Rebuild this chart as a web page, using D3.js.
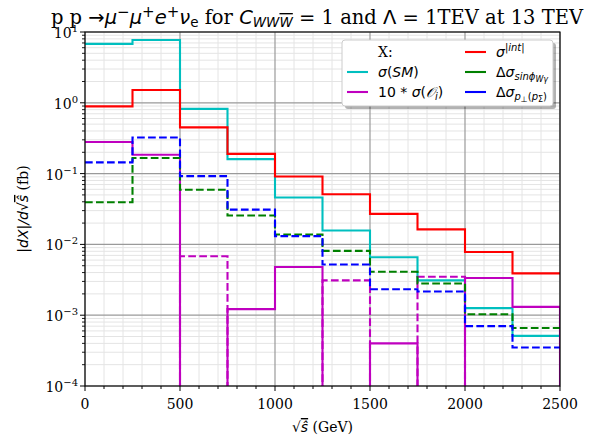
<!DOCTYPE html>
<html>
<head>
<meta charset="utf-8">
<script src="https://cdn.jsdelivr.net/npm/d3@7"></script>
<style>
  body { margin: 0; background: #fff; }
  svg { display: block; }
  .serif { font-family: "DejaVu Serif", serif; }
  .math { font-family: "DejaVu Sans", sans-serif; font-style: italic; }
</style>
</head>
<body>
<svg id="chart" width="594" height="439"></svg>
<script>
// bin edges (GeV) and per-bin values (fb)
const edges = [0, 250, 500, 750, 1000, 1250, 1500, 1750, 2000, 2250, 2500];
const sigmaSM = [6.8, 7.7, 0.82, 0.16, 0.046, 0.0157, 0.0066, 0.0031, 0.00126, 0.00051];
const sigmaInt = [0.89, 1.52, 0.45, 0.19, 0.091, 0.051, 0.027, 0.0163, 0.0078, 0.0039];
const sigmaOiPos = [0.28, 0.185, 0, 0.00122, 0.0048, 0, 0.0004, 0, 0.00335, 0.00131];
const sigmaOiNeg = [0, 0, 0.0068, 0, 0, 0.0031, 0, 0.0035, 0, 0];
const dSigmaSinPhi = [0.0394, 0.166, 0.059, 0.0256, 0.0138, 0.0081, 0.0041, 0.0028, 0.00103, 0.00066];
const dSigmaPperp = [0.144, 0.324, 0.092, 0.031, 0.0131, 0.0052, 0.00232, 0.00216, 0.0007, 0.00035];
const xTicks = [0, 500, 1000, 1500, 2000, 2500];
const yExponents = [1, 0, -1, -2, -3, -4];

const margin = { left: 85, right: 34, top: 32, bottom: 53 };
const width = 594, height = 439;

const svg = d3.select("#chart");

const x = d3.scaleLinear().domain([0, 2500]).range([margin.left, width - margin.right]);
const y = d3.scaleLog().domain([1e-4, 10]).range([height - margin.bottom, margin.top]);
const yBottom = y(1e-4), yTop = y(10);

svg.append("clipPath").attr("id", "plotclip")
  .append("rect")
  .attr("x", x(0)).attr("y", yTop)
  .attr("width", x(2500) - x(0)).attr("height", yBottom - yTop);

// grid
const grid = svg.append("g");
const minorX = d3.range(0, 2501, 100).filter(v => v % 500 !== 0);
const minorY = [];
yExponents.slice(1).forEach(e => { for (let k = 2; k <= 9; k++) minorY.push(k * Math.pow(10, e)); });

grid.selectAll(".mgx").data(minorX).join("line")
  .attr("x1", d => x(d)).attr("x2", d => x(d))
  .attr("y1", yTop).attr("y2", yBottom)
  .attr("stroke", "#e4e4e4").attr("stroke-width", 1);
grid.selectAll(".mgy").data(minorY).join("line")
  .attr("x1", x(0)).attr("x2", x(2500))
  .attr("y1", d => y(d)).attr("y2", d => y(d))
  .attr("stroke", "#e4e4e4").attr("stroke-width", 1);
grid.selectAll(".Mgx").data(xTicks).join("line")
  .attr("x1", d => x(d)).attr("x2", d => x(d))
  .attr("y1", yTop).attr("y2", yBottom)
  .attr("stroke", "#9a9a9a").attr("stroke-width", 1.2);
grid.selectAll(".Mgy").data(yExponents).join("line")
  .attr("x1", x(0)).attr("x2", x(2500))
  .attr("y1", d => y(Math.pow(10, d))).attr("y2", d => y(Math.pow(10, d)))
  .attr("stroke", "#9a9a9a").attr("stroke-width", 1.2);

// step lines
const series = [
  { values: sigmaSM, color: "#00bfbf", dashed: false },
  { values: sigmaOiPos, color: "#bf00bf", dashed: false, dropAtEnd: true },
  { values: sigmaOiNeg, color: "#bf00bf", dashed: true },
  { values: sigmaInt, color: "#ff0000", dashed: false },
  { values: dSigmaSinPhi, color: "#008000", dashed: true },
  { values: dSigmaPperp, color: "#0000ff", dashed: true }
];

const line = d3.line()
  .x(d => x(d.x))
  .y(d => d.v > 0 ? y(d.v) : yBottom + 20)
  .curve(d3.curveStepAfter);

const plot = svg.append("g").attr("clip-path", "url(#plotclip)");
series.forEach(s => {
  const pts = edges.map((e, i) => ({
    x: e,
    v: i < s.values.length ? s.values[i] : (s.dropAtEnd ? 0 : s.values[s.values.length - 1])
  }));
  plot.append("path")
    .attr("d", line(pts))
    .attr("fill", "none")
    .attr("stroke", s.color)
    .attr("stroke-width", 2.1)
    .attr("stroke-dasharray", s.dashed ? "7.7,3.3" : null);
});

// spines
svg.append("rect")
  .attr("x", x(0)).attr("y", yTop)
  .attr("width", x(2500) - x(0)).attr("height", yBottom - yTop)
  .attr("fill", "none").attr("stroke", "#000").attr("stroke-width", 1.1);

// x ticks
const xMinorAll = d3.range(0, 2501, 100);
svg.selectAll(".xt").data(xMinorAll).join("line")
  .attr("x1", d => x(d)).attr("x2", d => x(d))
  .attr("y1", yBottom).attr("y2", d => yBottom + (d % 500 === 0 ? 5 : 3))
  .attr("stroke", "#000").attr("stroke-width", 1);
svg.selectAll(".xl").data(xTicks).join("text")
  .attr("class", "serif")
  .attr("x", d => x(d)).attr("y", yBottom + 23)
  .attr("text-anchor", "middle").attr("font-size", 14)
  .text(d => d);

// y ticks
svg.selectAll(".ymt").data(minorY).join("line")
  .attr("x1", x(0) - 3).attr("x2", x(0))
  .attr("y1", d => y(d)).attr("y2", d => y(d))
  .attr("stroke", "#000").attr("stroke-width", 0.9);
svg.selectAll(".yMt").data(yExponents).join("line")
  .attr("x1", x(0) - 5).attr("x2", x(0))
  .attr("y1", d => y(Math.pow(10, d))).attr("y2", d => y(Math.pow(10, d)))
  .attr("stroke", "#000").attr("stroke-width", 1);
const yl = svg.selectAll(".yl").data(yExponents).join("text")
  .attr("class", "serif")
  .attr("x", x(0) - 7).attr("y", d => y(Math.pow(10, d)) + 6)
  .attr("text-anchor", "end").attr("font-size", 14);
yl.append("tspan").text("10");
yl.append("tspan").attr("dy", -6).attr("font-size", 10)
  .text(d => d < 0 ? "\u2212" + (-d) : d);

// axis labels
const xlab = svg.append("text").attr("class", "serif")
  .attr("x", (x(0) + x(2500)) / 2).attr("y", 432)
  .attr("text-anchor", "middle").attr("font-size", 14);
xlab.append("tspan").attr("font-family", "DejaVu Sans").text("\u221A");
xlab.append("tspan").attr("class", "math").attr("text-decoration", "overline").text("\u015D");
xlab.append("tspan").text(" (GeV)");

const ylab = svg.append("text").attr("class", "serif")
  .attr("transform", `translate(28,${(yTop + yBottom) / 2}) rotate(-90)`)
  .attr("text-anchor", "middle").attr("font-size", 14);
ylab.append("tspan").attr("class", "math").text("|dX|/d");
ylab.append("tspan").attr("font-family", "DejaVu Sans").text("\u221A");
ylab.append("tspan").attr("class", "math").attr("text-decoration", "overline").text("\u015D");
ylab.append("tspan").text(" (fb)");

// title
const title = svg.append("text").attr("class", "serif")
  .attr("x", 317).attr("y", 24)
  .attr("text-anchor", "middle").attr("font-size", 19.5);
title.append("tspan").text("p p ");
title.append("tspan").attr("font-family", "DejaVu Sans").text(" \u2192");
title.append("tspan").attr("class", "math").text("\u03BC");
title.append("tspan").attr("font-family", "DejaVu Sans").attr("font-size", 15).attr("dy", -7).text("\u2212");
title.append("tspan").attr("class", "math").attr("dy", 7).text("\u03BC");
title.append("tspan").attr("font-family", "DejaVu Sans").attr("font-size", 15).attr("dy", -7).text("+");
title.append("tspan").attr("class", "math").attr("dy", 7).text("e");
title.append("tspan").attr("font-family", "DejaVu Sans").attr("font-size", 15).attr("dy", -7).text("+");
title.append("tspan").attr("class", "math").attr("dy", 7).text("\u03BD");
title.append("tspan").attr("font-family", "DejaVu Sans").attr("font-size", 13.5).attr("dy", 3).text("e");
title.append("tspan").attr("dy", -3).text(" for ");
title.append("tspan").attr("class", "math").text("C");
title.append("tspan").attr("class", "math").attr("font-size", 13.5).attr("dy", 3).text("WW");
title.append("tspan").attr("class", "math").attr("font-size", 13.5).attr("text-decoration", "overline").text("W");
title.append("tspan").attr("font-family", "DejaVu Sans").attr("dy", -3).text(" = ");
title.append("tspan").text("1 and ");
title.append("tspan").attr("font-family", "DejaVu Sans").text("\u039B = ");
title.append("tspan").text("1TEV at 13 TEV");

// legend
const lg = svg.append("g");
lg.append("rect")
  .attr("x", 345).attr("y", 43).attr("width", 211).attr("height", 66).attr("rx", 3)
  .attr("fill", "#000").attr("opacity", 0.3);
lg.append("rect")
  .attr("x", 342).attr("y", 40).attr("width", 211).attr("height", 66).attr("rx", 3)
  .attr("fill", "#fff").attr("stroke", "#cccccc").attr("stroke-width", 1);

const legendItems = [
  { col: 0, row: 0, color: null, label: "X:" },
  { col: 0, row: 1, color: "#00bfbf", label: "sm" },
  { col: 0, row: 2, color: "#bf00bf", label: "oi" },
  { col: 1, row: 0, color: "#ff0000", label: "int" },
  { col: 1, row: 1, color: "#008000", label: "sin" },
  { col: 1, row: 2, color: "#0000ff", label: "pp" }
];
const colX = [347, 465], rowY = [52, 72, 92];
legendItems.forEach(it => {
  const lx = colX[it.col], ly = rowY[it.row];
  if (it.color) {
    lg.append("line").attr("x1", lx).attr("x2", lx + 21)
      .attr("y1", ly).attr("y2", ly)
      .attr("stroke", it.color).attr("stroke-width", 2.1);
  }
  const t = lg.append("text").attr("x", lx + 31).attr("y", ly + 5).attr("font-size", 14)
    .attr("font-family", "DejaVu Sans");
  if (it.label === "X:") {
    t.attr("class", "serif").text("X:");
  } else if (it.label === "sm") {
    t.append("tspan").attr("font-style", "italic").text("\u03C3");
    t.append("tspan").text("(");
    t.append("tspan").attr("font-style", "italic").text("SM");
    t.append("tspan").text(")");
  } else if (it.label === "oi") {
    t.append("tspan").text("10 * ");
    t.append("tspan").attr("font-style", "italic").text("\u03C3");
    t.append("tspan").text("(");
    t.append("tspan").attr("font-style", "italic").text("\uD835\uDCAA");
    t.append("tspan").attr("font-style", "italic").attr("font-size", 10).attr("dy", 3).text("i");
    t.append("tspan").attr("dy", -3).text(")");
  } else if (it.label === "int") {
    t.append("tspan").attr("font-style", "italic").text("\u03C3");
    t.append("tspan").attr("font-style", "italic").attr("font-size", 10).attr("dy", -6).text("|int|");
  } else if (it.label === "sin") {
    t.append("tspan").text("\u0394");
    t.append("tspan").attr("font-style", "italic").text("\u03C3");
    t.append("tspan").attr("font-style", "italic").attr("font-size", 10).attr("dy", 3).text("sin\u03D5");
    t.append("tspan").attr("font-style", "italic").attr("font-size", 8).attr("dy", 2).text("W\u03B3");
  } else if (it.label === "pp") {
    t.append("tspan").text("\u0394");
    t.append("tspan").attr("font-style", "italic").text("\u03C3");
    t.append("tspan").attr("font-style", "italic").attr("font-size", 10).attr("dy", 3).text("p");
    t.append("tspan").attr("font-size", 8).attr("dy", 2).text("\u22A5");
    t.append("tspan").attr("font-size", 10).attr("dy", -2).text("(");
    t.append("tspan").attr("font-style", "italic").attr("font-size", 10).text("p");
    t.append("tspan").attr("font-size", 8).attr("dy", 2).text("\u03A3");
    t.append("tspan").attr("font-size", 10).attr("dy", -2).text(")");
  }
});
</script>
</body>
</html>
